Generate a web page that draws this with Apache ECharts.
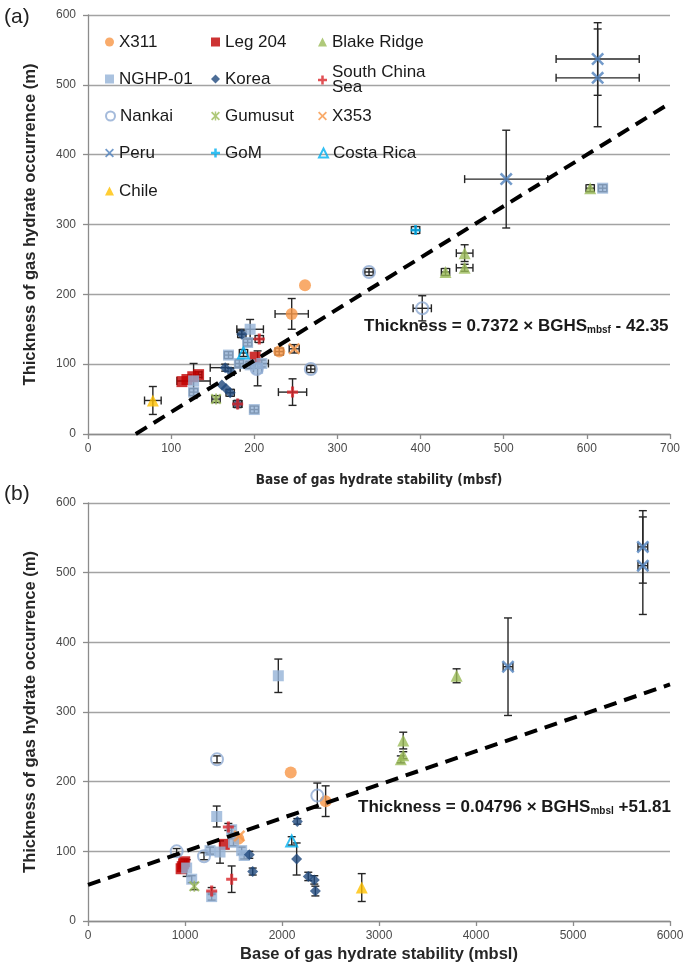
<!DOCTYPE html>
<html>
<head>
<meta charset="utf-8">
<script src="https://cdn.jsdelivr.net/npm/echarts@6/dist/echarts.min.js"></script>
<style>
  html, body { margin: 0; padding: 0; background: #fff; }
  #chart { width: 686px; height: 964px; }
</style>
</head>
<body>
<div id="chart"></div>
<script>
// Each record: [BGHS, thickness, BGHS error, thickness error]
// Panel (a): BGHS in metres below sea floor
const x311Mbsf      = [[261, 213, 0, 0], [245, 172, 20, 22], [230, 118, 5, 5]];
const leg204Mbsf    = [[113, 75, 0, 0], [119, 78, 0, 0], [126, 82, 0, 0], [133, 85, 4, 4], [201, 110, 0, 0]];
const blakeMbsf     = [[453, 259, 10, 12], [453, 238, 10, 5], [430, 232, 5, 5], [604, 352, 5, 5]];
const nghpMbsf      = [[195, 150, 16, 14], [192, 131, 5, 5], [169, 113, 5, 5], [182, 101, 5, 5], [195, 99, 5, 5],
                       [209, 101, 8, 5], [204, 94, 5, 25], [127, 76, 20, 25], [127, 60, 5, 5], [200, 35, 5, 5], [619, 352, 5, 5]];
const koreaMbsf     = [[185, 143, 5, 5], [165, 95, 18, 5], [172, 89, 0, 5], [161, 70, 0, 0], [166, 65, 0, 0], [171, 59, 5, 5], [180, 43, 5, 5]];
const scsMbsf       = [[206, 136, 5, 5], [246, 60, 17, 19], [180, 43, 5, 5]];
const nankaiMbsf    = [[338, 232, 5, 5], [402, 180, 11, 18], [268, 93, 5, 5], [203, 93, 0, 0]];
const gumusutMbsf   = [[154, 50, 5, 5]];
const x353Mbsf      = [[248, 122, 6, 6]];
const peruMbsf      = [[613, 537, 50, 52], [613, 510, 50, 70], [503, 365, 50, 70]];
const gomMbsf       = [[394, 292, 5, 5]];
const costaRicaMbsf = [[187, 116, 5, 5]];
const chileMbsf     = [[78, 48, 10, 20]];

// Panel (b): BGHS in metres below sea level
const x311Mbsl      = [[2090, 213, 0, 0], [2450, 172, 0, 22], [1550, 118, 0, 0]];
const leg204Mbsl    = [[960, 75, 0, 0], [972, 78, 0, 0], [985, 82, 0, 0], [997, 85, 0, 4], [1405, 110, 0, 0]];
const blakeMbsl     = [[3250, 259, 0, 12], [3250, 238, 0, 5], [3225, 232, 0, 5], [3800, 352, 0, 10]];
const nghpMbsl      = [[1327, 150, 0, 15], [1481, 131, 0, 5], [1500, 113, 0, 5], [1258, 101, 0, 5], [1361, 99, 0, 16],
                       [1584, 101, 0, 5], [1610, 94, 0, 5], [1017, 76, 0, 12], [1069, 60, 0, 5], [1275, 35, 0, 5], [1962, 352, 0, 24]];
const koreaMbsl     = [[2158, 143, 0, 4], [1663, 95, 0, 5], [2151, 89, 0, 23], [1698, 71, 0, 5], [2271, 64, 0, 6], [2333, 59, 0, 6], [2344, 43, 0, 7]];
const scsMbsl       = [[1447, 135, 0, 5], [1481, 60, 0, 19], [1275, 43, 0, 5]];
const nankaiMbsl    = [[1330, 232, 0, 5], [2364, 180, 0, 18], [1196, 93, 0, 5], [914, 100, 0, 4]];
const gumusutMbsl   = [[1096, 50, 0, 5]];
const x353Mbsl      = [[1560, 122, 0, 0]];
const peruMbsl      = [[5720, 537, 50, 52], [5720, 510, 50, 70], [4330, 365, 50, 70]];
const gomMbsl       = [];
const costaRicaMbsl = [[2100, 115, 0, 6]];
const chileMbsl     = [[2822, 48, 0, 20]];

// Least-squares fits printed on each panel
const fitMbsf = { slope: 0.7372, intercept: -42.35 };
const fitMbsl = { slope: 0.04796, intercept: 51.81 };

// Axis ranges and tick spacing
const xTicksMbsf = { min: 0, max: 700, interval: 100 };
const xTicksMbsl = { min: 0, max: 6000, interval: 1000 };
const yTicks = { min: 0, max: 600, interval: 100 };

const siteNames = ['X311', 'Leg 204', 'Blake Ridge', 'NGHP-01', 'Korea', 'South China Sea',
                   'Nankai', 'Gumusut', 'X353', 'Peru', 'GoM', 'Costa Rica', 'Chile'];
const mbsfBySite = {
  'X311': x311Mbsf, 'Leg 204': leg204Mbsf, 'Blake Ridge': blakeMbsf, 'NGHP-01': nghpMbsf,
  'Korea': koreaMbsf, 'South China Sea': scsMbsf, 'Nankai': nankaiMbsf, 'Gumusut': gumusutMbsf,
  'X353': x353Mbsf, 'Peru': peruMbsf, 'GoM': gomMbsf, 'Costa Rica': costaRicaMbsf, 'Chile': chileMbsf
};
const mbslBySite = {
  'X311': x311Mbsl, 'Leg 204': leg204Mbsl, 'Blake Ridge': blakeMbsl, 'NGHP-01': nghpMbsl,
  'Korea': koreaMbsl, 'South China Sea': scsMbsl, 'Nankai': nankaiMbsl, 'Gumusut': gumusutMbsl,
  'X353': x353Mbsl, 'Peru': peruMbsl, 'GoM': gomMbsl, 'Costa Rica': costaRicaMbsl, 'Chile': chileMbsl
};

// Marker shapes
const PLUS = 'path://M3.6,0H6.4V3.6H10V6.4H6.4V10H3.6V6.4H0V3.6H3.6Z';
const CROSS = 'path://M1.4,0L5,3.6L8.6,0L10,1.4L6.4,5L10,8.6L8.6,10L5,6.4L1.4,10L0,8.6L3.6,5L0,1.4Z';
const STAR = 'path://M1.4,0L5,3.6L8.6,0L10,1.4L6.4,5L10,8.6L8.6,10L5,6.4L1.4,10L0,8.6L3.6,5L0,1.4Z M4.2,0H5.8V10H4.2Z';

const siteStyle = {
  'X311':            { symbol: 'circle',   size: 12, item: { color: '#F79646' } },
  'Leg 204':         { symbol: 'rect',     size: 11, item: { color: '#C00000' } },
  'Blake Ridge':     { symbol: 'triangle', size: 12, item: { color: '#9BBB59' } },
  'NGHP-01':         { symbol: 'rect',     size: 11, item: { color: '#95B3D7' } },
  'Korea':           { symbol: 'diamond',  size: 11, item: { color: '#1F497D' } },
  'South China Sea': { symbol: PLUS,       size: 11, item: { color: '#D9262B' } },
  'Nankai':          { symbol: 'circle',   size: 12, item: { color: 'rgba(255,255,255,0)', borderColor: '#8EAAD2', borderWidth: 2 } },
  'Gumusut':         { symbol: STAR,       size: 11, item: { color: '#9BBB59' } },
  'X353':            { symbol: CROSS,      size: 12, item: { color: '#F79646' } },
  'Peru':            { symbol: CROSS,      size: 13, item: { color: '#4F81BD' } },
  'GoM':             { symbol: PLUS,       size: 10, item: { color: '#00B0F0' } },
  'Costa Rica':      { symbol: 'triangle', size: 11, item: { color: 'rgba(255,255,255,0)', borderColor: '#00B0F0', borderWidth: 2 } },
  'Chile':           { symbol: 'triangle', size: 12, item: { color: '#FFC000' } }
};

const FONT = "'Liberation Sans', Arial, sans-serif";
const NARROW = "'Liberation Sans Narrow', 'DejaVu Sans Condensed', 'Liberation Sans', sans-serif";
const AXIS_COLOR = '#8c8c8c';
const GRID_COLOR = '#a3a3a3';

function errorBars(params, api) {
  const x = api.value(0), y = api.value(1), ex = api.value(2), ey = api.value(3);
  const cap = 4;
  const style = { stroke: '#262626', lineWidth: 1.4 };
  const children = [];
  if (ex > 0) {
    const l = api.coord([x - ex, y]), r = api.coord([x + ex, y]);
    children.push({ type: 'line', shape: { x1: l[0], y1: l[1], x2: r[0], y2: r[1] }, style });
    children.push({ type: 'line', shape: { x1: l[0], y1: l[1] - cap, x2: l[0], y2: l[1] + cap }, style });
    children.push({ type: 'line', shape: { x1: r[0], y1: r[1] - cap, x2: r[0], y2: r[1] + cap }, style });
  }
  if (ey > 0) {
    const b = api.coord([x, y - ey]), t = api.coord([x, y + ey]);
    children.push({ type: 'line', shape: { x1: b[0], y1: b[1], x2: t[0], y2: t[1] }, style });
    children.push({ type: 'line', shape: { x1: b[0] - cap, y1: b[1], x2: b[0] + cap, y2: b[1] }, style });
    children.push({ type: 'line', shape: { x1: t[0] - cap, y1: t[1], x2: t[0] + cap, y2: t[1] }, style });
  }
  return { type: 'group', children };
}

function xAxisFor(gridIndex, ticks, name, nameGap, nameFont, nameSize) {
  return {
    gridIndex, type: 'value', min: ticks.min, max: ticks.max, interval: ticks.interval,
    axisLine: { show: true, onZero: false, lineStyle: { color: AXIS_COLOR, width: 1.3 } },
    axisTick: { show: true, length: 5, lineStyle: { color: AXIS_COLOR, width: 1.3 } },
    axisLabel: { margin: 9, fontSize: 12, color: '#4a4a4a', fontFamily: FONT, formatter: v => String(v) },
    splitLine: { show: false },
    name, nameLocation: 'middle', nameGap,
    nameTextStyle: { fontFamily: nameFont, fontSize: nameSize, fontWeight: 'bold', color: '#262626' }
  };
}

function yAxisFor(gridIndex) {
  return {
    gridIndex, type: 'value', min: yTicks.min, max: yTicks.max, interval: yTicks.interval,
    axisLine: { show: true, onZero: false, lineStyle: { color: AXIS_COLOR, width: 1.3 } },
    axisTick: { show: true, length: 5, lineStyle: { color: AXIS_COLOR, width: 1.3 } },
    axisLabel: { margin: 12, fontSize: 12, color: '#4a4a4a', fontFamily: FONT, formatter: v => String(v) },
    splitLine: { show: true, lineStyle: { color: GRID_COLOR, width: 1.4 } },
    name: 'Thickness of gas hydrate occurrence (m)', nameLocation: 'middle', nameGap: 49,
    nameTextStyle: { fontFamily: FONT, fontSize: 16.5, fontWeight: 'bold', color: '#262626' }
  };
}

const series = [];
[mbsfBySite, mbslBySite].forEach((bySite, g) => {
  const all = [];
  siteNames.forEach(n => bySite[n].forEach(d => all.push(d)));
  series.push({
    type: 'custom', name: 'error bars', xAxisIndex: g, yAxisIndex: g, z: 1, silent: true,
    renderItem: errorBars, data: all, encode: { x: 0, y: 1 }
  });
  siteNames.forEach(n => {
    const s = siteStyle[n];
    series.push({
      type: 'scatter', name: n, xAxisIndex: g, yAxisIndex: g, z: 3,
      symbol: s.symbol, symbolSize: s.size, itemStyle: s.item,
      data: bySite[n].map(d => [d[0], d[1]])
    });
  });
});

// Fitted trend lines, drawn between the axis limits
function trend(fit, ticks) {
  const x0 = Math.max(ticks.min, -fit.intercept / fit.slope);
  return [[x0, fit.slope * x0 + fit.intercept], [ticks.max, fit.slope * ticks.max + fit.intercept]];
}
[[fitMbsf, xTicksMbsf], [fitMbsl, xTicksMbsl]].forEach(([fit, ticks], g) => {
  series.push({
    type: 'line', name: 'fit', xAxisIndex: g, yAxisIndex: g, z: 4, silent: true,
    symbol: 'none', data: trend(fit, ticks),
    lineStyle: { color: '#000', width: 4, type: [13, 8] }
  });
});

// Legend laid out as a 3-column block inside panel (a)
const legendRows = [
  ['X311', 'Leg 204', 'Blake Ridge'],
  ['NGHP-01', 'Korea', 'South China Sea'],
  ['Nankai', 'Gumusut', 'X353'],
  ['Peru', 'GoM', 'Costa Rica'],
  ['Chile']
];
const legendLeft = [105, 211, 318];
const legendRowMid = [42, 79, 116, 153, 191];
const legends = [];
legendRows.forEach((row, r) => row.forEach((n, c) => {
  const twoLine = n === 'South China Sea';
  legends.push({
    data: [n], orient: 'horizontal', left: legendLeft[c],
    top: legendRowMid[r] - (twoLine ? 15 : 10), padding: 0,
    itemWidth: 9, itemHeight: 9, selectedMode: false,
    formatter: twoLine ? 'South China\nSea' : '{name}',
    textStyle: { fontFamily: FONT, fontSize: 17, color: '#1a1a1a', lineHeight: twoLine ? 15 : 20 }
  });
}));

const eqRich = {
  m: { fontFamily: FONT, fontSize: 17, fontWeight: 'bold', fill: '#1a1a1a', lineHeight: 19, verticalAlign: 'bottom' },
  s: { fontFamily: FONT, fontSize: 10, fontWeight: 'bold', fill: '#1a1a1a', lineHeight: 10, verticalAlign: 'bottom' }
};

const option = {
  backgroundColor: '#fff',
  animation: false,
  grid: [
    { left: 88, right: 16, top: 15, bottom: 530, containLabel: false, outerBoundsMode: 'none' },
    { left: 88, right: 16, top: 503, bottom: 43, containLabel: false, outerBoundsMode: 'none' }
  ],
  xAxis: [
    xAxisFor(0, xTicksMbsf, 'Base of gas hydrate stability (mbsf)', 39, NARROW, 13.5),
    xAxisFor(1, xTicksMbsl, 'Base of gas hydrate stability (mbsl)', 25, FONT, 16.5)
  ],
  yAxis: [yAxisFor(0), yAxisFor(1)],
  legend: legends,
  graphic: [
    { type: 'text', left: 4, top: 7, style: { text: '(a)', font: '21px ' + FONT, fill: '#222' } },
    { type: 'text', left: 4, top: 484, style: { text: '(b)', font: '21px ' + FONT, fill: '#222' } },
    { type: 'text', left: 364, top: 318, z: 10,
      style: { text: '{m|Thickness = 0.7372 × BGHS}{s|mbsf}{m| - 42.35}', rich: eqRich } },
    { type: 'text', left: 358, top: 799, z: 10,
      style: { text: '{m|Thickness = 0.04796 × BGHS}{s|mbsl}{m| +51.81}', rich: eqRich } }
  ],
  series
};

const chart = echarts.init(document.getElementById('chart'), null, { renderer: 'canvas' });
chart.setOption(option);
</script>
</body>
</html>
